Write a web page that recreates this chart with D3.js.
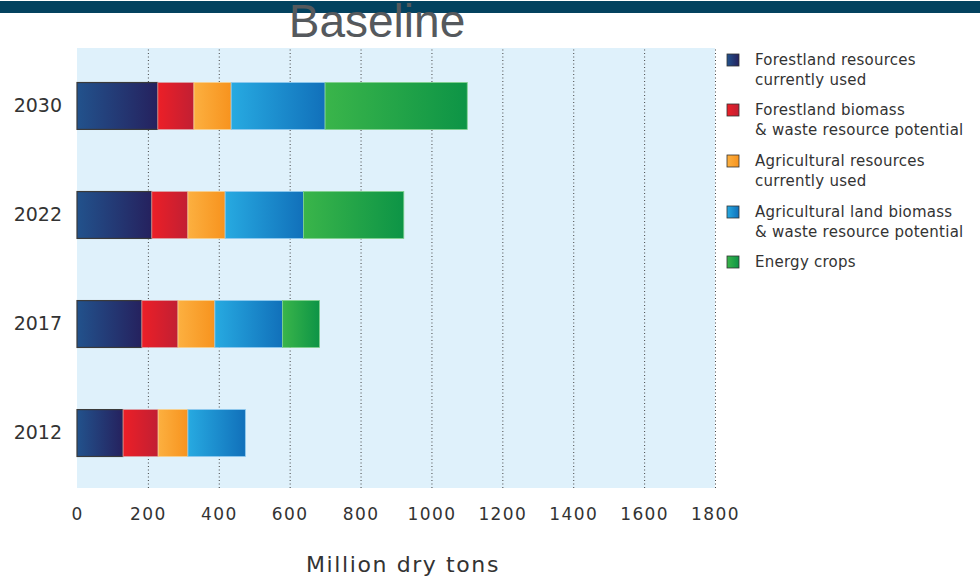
<!DOCTYPE html>
<html>
<head>
<meta charset="utf-8">
<script src="https://cdn.jsdelivr.net/npm/d3@7"></script>
<style>
  body { margin: 0; background: #fff; }
  text { font-family: "DejaVu Sans", "Noto Sans", sans-serif; }
</style>
</head>
<body>
<script>
// values, million dry tons
var years = ["2030", "2022", "2017", "2012"];
var forestUsed = [228, 211, 183, 130];
var forestPotential = [102, 102, 102, 99];
var agUsed = [105, 105, 104, 84];
var agPotential = [265, 221, 191, 162];
var energyCrops = [401, 283, 104, 0];
var xTicks = [0, 200, 400, 600, 800, 1000, 1200, 1400, 1600, 1800];

var seriesKeys = ["forestUsed", "forestPotential", "agUsed", "agPotential", "energyCrops"];
var seriesNames = [
  ["Forestland resources", "currently used"],
  ["Forestland biomass", "& waste resource potential"],
  ["Agricultural resources", "currently used"],
  ["Agricultural land biomass", "& waste resource potential"],
  ["Energy crops"]
];
var grads = [
  ["#22528c", "#25215e"],
  ["#ec1f27", "#c11f33"],
  ["#fcb040", "#f7931e"],
  ["#27aae1", "#1170ba"],
  ["#3ab54a", "#0d9446"]
];
var strokes = ["#3a3a3a", "#d9a0a5", "#f8d08e", "#8ec9ee", "#7fd08b"];

var width = 980, height = 578;
var margin = {top: 48, left: 77, right: 265, bottom: 90};
var plotW = width - margin.left - margin.right,
    plotH = height - margin.top - margin.bottom;

var table = years.map(function(y, i) {
  return {year: y, forestUsed: forestUsed[i], forestPotential: forestPotential[i],
          agUsed: agUsed[i], agPotential: agPotential[i], energyCrops: energyCrops[i]};
});

var svg = d3.select("body").append("svg")
    .attr("width", width)
    .attr("height", height);

var defs = svg.append("defs");
grads.forEach(function(g, i) {
  var lg = defs.append("linearGradient").attr("id", "grad" + i)
      .attr("x1", 0).attr("y1", 0).attr("x2", 1).attr("y2", 0);
  lg.append("stop").attr("offset", 0).attr("stop-color", g[0]);
  lg.append("stop").attr("offset", 1).attr("stop-color", g[1]);
});

// top band
svg.append("rect").attr("x", 0).attr("y", 1).attr("width", width).attr("height", 12)
   .attr("fill", "#03425f");

var x = d3.scaleLinear().domain([0, 1800]).range([0, plotW]);
var y = d3.scaleBand().domain(years).range([4, plotH - 1]).paddingInner(0.57).paddingOuter(0.28);

var g = svg.append("g").attr("transform", "translate(" + margin.left + "," + margin.top + ")");

g.append("rect").attr("width", plotW).attr("height", plotH).attr("fill", "#dff1fb");

// dotted gridlines
g.append("g")
  .attr("class", "grid")
  .attr("transform", "translate(0," + plotH + ")")
  .call(d3.axisBottom(x).tickValues(xTicks.slice(1)).tickSize(-plotH).tickFormat(""))
  .call(function(s) {
    s.select(".domain").remove();
    s.selectAll("line").attr("stroke", "#444").attr("stroke-dasharray", "1,2.5");
  });

var stack = d3.stack().keys(seriesKeys);
var layers = stack(table);

g.selectAll("g.layer")
  .data(layers)
  .enter().append("g")
  .attr("class", "layer")
  .each(function(layer, li) {
    d3.select(this).selectAll("rect")
      .data(layer.filter(function(d) { return d[1] > d[0]; }))
      .enter().append("rect")
      .attr("x", function(d) { return x(d[0]); })
      .attr("y", function(d) { return y(d.data.year); })
      .attr("width", function(d) { return x(d[1]) - x(d[0]); })
      .attr("height", y.bandwidth())
      .attr("fill", "url(#grad" + li + ")")
      .attr("stroke", strokes[li])
      .attr("stroke-width", li == 0 ? 1.2 : 0.8);
  });

// year labels
g.append("g")
  .call(d3.axisLeft(y).tickSize(0).tickPadding(15))
  .call(function(s) {
    s.select(".domain").remove();
    s.selectAll("text").attr("font-size", 19).attr("fill", "#333")
      .style("font-family", "'DejaVu Sans', sans-serif");
  });

// x tick labels
g.append("g")
  .attr("transform", "translate(0," + plotH + ")")
  .call(d3.axisBottom(x).tickValues(xTicks).tickSize(0).tickPadding(20).tickFormat(d3.format("d")))
  .call(function(s) {
    s.select(".domain").remove();
    s.selectAll("text").attr("font-size", 17).attr("fill", "#333")
      .attr("letter-spacing", 1.4)
      .style("font-family", "'DejaVu Sans', sans-serif");
  });

svg.append("text")
  .attr("x", 403).attr("y", 572)
  .attr("text-anchor", "middle")
  .attr("font-size", 22).attr("fill", "#333")
  .attr("letter-spacing", 1.6)
  .text("Million dry tons");

svg.append("text")
  .attr("x", 377).attr("y", 37)
  .attr("text-anchor", "middle")
  .attr("font-size", 46).attr("fill", "#55595d")
  .style("font-family", "'Liberation Sans', Arial, sans-serif")
  .text("Baseline");

// legend
var legendY = [60, 110, 161, 212, 262];
var legend = svg.append("g");
seriesNames.forEach(function(lines, i) {
  var lg = legend.append("g").attr("transform", "translate(727," + legendY[i] + ")");
  lg.append("rect").attr("x", 0).attr("y", -6).attr("width", 12).attr("height", 12)
    .attr("fill", "url(#grad" + i + ")").attr("stroke", "#333").attr("stroke-width", 0.8);
  lines.forEach(function(t, j) {
    lg.append("text").attr("x", 28).attr("y", 5 + j * 20)
      .attr("font-size", 15).attr("fill", "#333")
      .attr("letter-spacing", 0.25).text(t);
  });
});
</script>
</body>
</html>
